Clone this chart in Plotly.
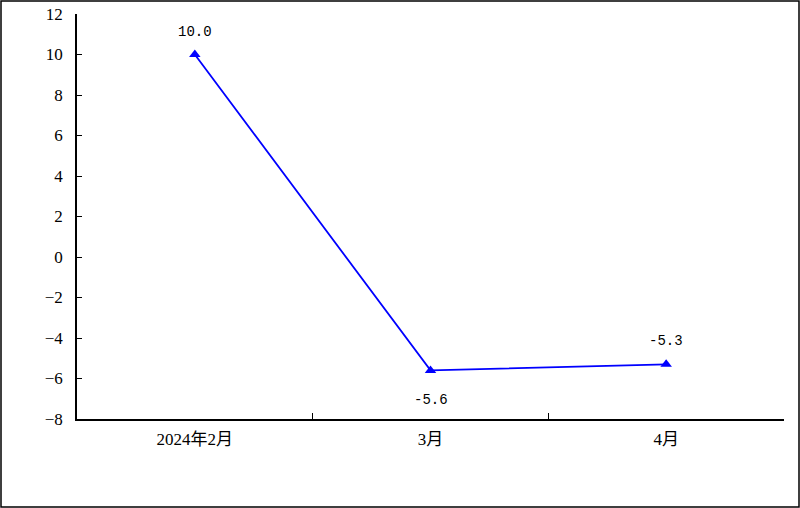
import plotly.graph_objects as go

categories = ["2024年2月", "3月", "4月"]
values = [10.0, -5.6, -5.3]
labels = ["10.0", "-5.6", "-5.3"]
label_shift = [23, -30, 23]
y_ticks = [12, 10, 8, 6, 4, 2, 0, -2, -4, -6, -8]

W, H = 800, 508
L, R, T, B = 77, 16, 14, 89

fig = go.Figure()
fig.add_trace(go.Scatter(
    x=categories, y=values, mode="lines+markers",
    line=dict(color="#0000FF", width=1.8),
    marker=dict(symbol="triangle-up", size=10, color="#0000FF"),
    cliponaxis=False,
    showlegend=False,
))

for c, v, t, s in zip(categories, values, labels, label_shift):
    fig.add_annotation(x=c, y=v, text=t, showarrow=False, yshift=s,
                       font=dict(family="Liberation Mono, DejaVu Sans Mono", size=14, color="black"))

pw = W - L - R
ph = H - T - B
fig.add_shape(type="rect", xref="paper", yref="paper",
              x0=(1 - L) / pw, x1=(W - 1 - L) / pw,
              y0=-(H - 1 - T - ph) / ph, y1=1 + (T - 1) / ph,
              line=dict(color="black", width=1.5), fillcolor="rgba(0,0,0,0)")

fig.update_layout(
    width=W, height=H,
    margin=dict(l=L, r=R, t=T, b=B, autoexpand=False),
    paper_bgcolor="white", plot_bgcolor="white",
    font=dict(family="Liberation Serif, Noto Sans CJK SC", size=14, color="black"),
)
fig.update_xaxes(
    type="category", range=[-0.5, 2.5], automargin=False,
    showline=True, linecolor="black", linewidth=1.5,
    ticks="inside", tickson="boundaries", ticklen=6, tickcolor="black",
    showgrid=False, zeroline=False, ticklabelstandoff=4,
    tickfont=dict(family="Liberation Serif, Noto Sans CJK SC", size=17),
)
fig.update_yaxes(
    range=[-8, 12], tickvals=y_ticks, automargin=False,
    showline=True, linecolor="black", linewidth=1.5,
    ticks="inside", ticklen=5, tickcolor="black",
    showgrid=False, zeroline=False, ticklabelstandoff=9,
    tickfont=dict(family="Liberation Serif", size=17),
)

fig.write_html("out.html", config={"displayModeBar": False},
               post_script="document.body.style.margin='0';")
